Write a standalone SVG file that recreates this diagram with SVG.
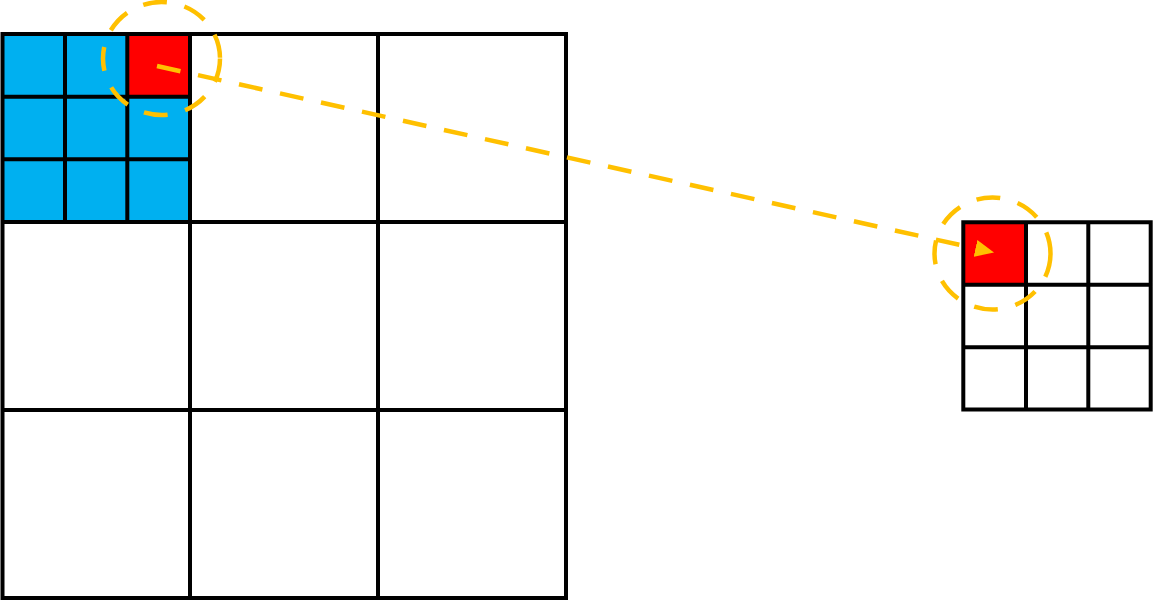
<svg xmlns="http://www.w3.org/2000/svg" width="1153" height="600" viewBox="0 0 1153 600">
  <style>
    .grid { fill: none; stroke: #000; stroke-width: 4; }
    .blue { fill: #00B0F0; }
    .red { fill: #FF0000; }
    .dash { fill: none; stroke: #FFC000; stroke-width: 4.5; stroke-dasharray: 24 18; }
  </style>
  <defs>
    <marker id="arrow" markerUnits="userSpaceOnUse" markerWidth="19" markerHeight="17" viewBox="0 0 19 17" refX="0" refY="8.5" orient="auto">
      <path d="M0,0 L19,8.5 L0,17 Z" fill="#FFC000"/>
    </marker>
  </defs>
  <rect width="1153" height="600" fill="#fff"/>
  <g id="input-map">
    <rect class="blue" x="2.5" y="34" width="187.5" height="188"/>
    <rect class="red" x="127.3" y="34" width="62.7" height="62.7"/>
    <path class="grid" d="M2.5,34 H566 V598 H2.5 Z M190,34 V598 M378,34 V598 M2.5,222 H566 M2.5,410 H566 M65,34 V222 M127.3,34 V222 M2.5,96.7 H190 M2.5,159.3 H190"/>
    <ellipse id="receptive-field" class="dash" cx="161.5" cy="58.5" rx="58.5" ry="56.5"/>
  </g>
  <g id="output-map">
    <rect class="red" x="963.3" y="222.3" width="62.7" height="62.7"/>
    <path class="grid" d="M963.3,222.3 H1150.7 V409.5 H963.3 Z M1026,222.3 V409.5 M1088.3,222.3 V409.5 M963.3,284.8 H1150.7 M963.3,347.2 H1150.7"/>
    <ellipse id="output-cell" class="dash" cx="992.5" cy="253.5" rx="58" ry="56"/>
  </g>
  <g id="connectors">
    <line class="dash" x1="157" y1="66" x2="975.5" y2="248.4" marker-end="url(#arrow)"/>
  </g>
</svg>
